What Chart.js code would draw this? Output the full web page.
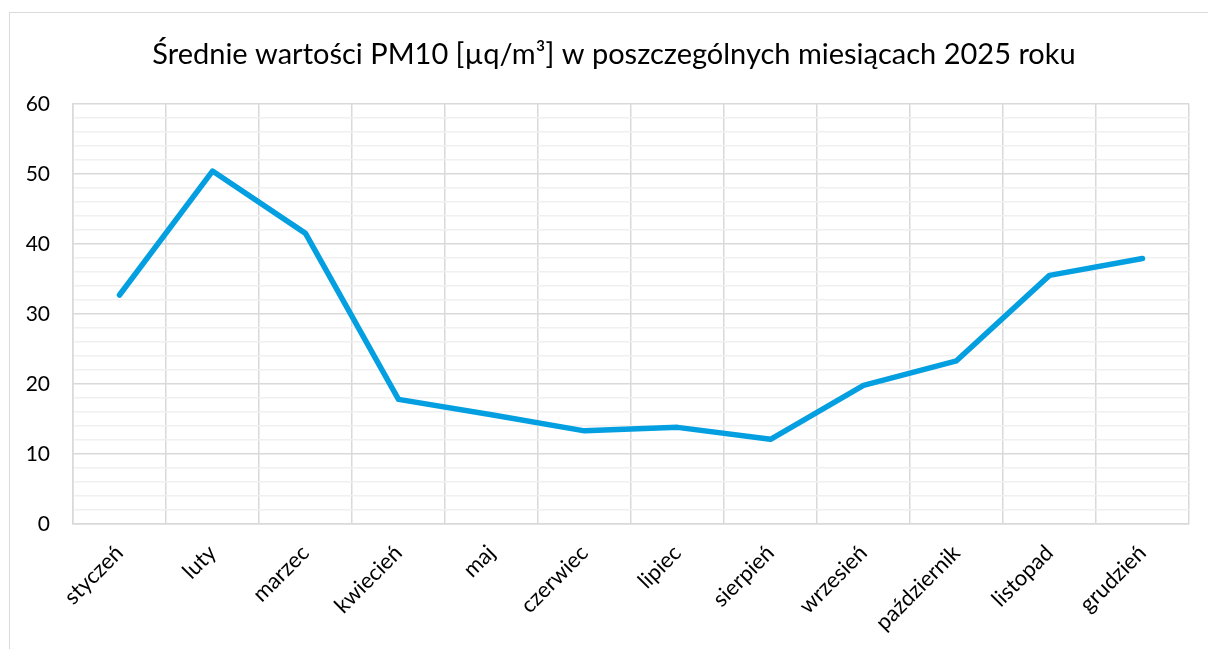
<!DOCTYPE html>
<html lang="pl">
<head>
<meta charset="utf-8">
<title>PM10 2025</title>
<script src="https://cdn.jsdelivr.net/npm/chart.js@4.4.1/dist/chart.umd.min.js"></script>
<style>
    html, body { margin: 0; padding: 0; background: #fff; overflow: hidden; }
    #wrap { position: relative; width: 1208px; height: 649px; }
    #frame {
        position: absolute; left: 9px; top: 12px; width: 1300px; height: 800px;
        border: 1.5px solid #d9d9d9; pointer-events: none;
    }
</style>
</head>
<body>
<div id="wrap">
    <canvas id="pm10" width="1208" height="649"></canvas>
    <div id="frame"></div>
</div>
<script>
/* global Chart */

const MONTHS = ['styczeń', 'luty', 'marzec', 'kwiecień', 'maj', 'czerwiec',
    'lipiec', 'sierpień', 'wrzesień', 'październik', 'listopad', 'grudzień'];
const PM10 = [32.7, 50.4, 41.5, 17.8, 15.6, 13.3, 13.8, 12.1, 19.8, 23.3, 35.5, 37.9];
const Y_MIN = 0;
const Y_MAX = 60;
const Y_MAJOR = 10;
const Y_MINOR = 2;

(function () {
    'use strict';

    const FONT = 'Lato, "Open Sans", sans-serif';
    const major = '#d9d9d9';
    const minor = '#f0f0f0';

    /* ── Line chart ───────────────────────────────────────────────────── */

    new Chart(document.getElementById('pm10'), {
        type: 'line',
        data: {
            labels: MONTHS,
            datasets: [{
                data: PM10,
                borderColor: '#049fe0',
                borderWidth: 5.5,
                borderCapStyle: 'round',
                borderJoinStyle: 'round',
                tension: 0,
                pointRadius: 0,
                fill: false,
            }],
        },
        options: {
            responsive: false,
            animation: false,
            layout: { padding: { left: 20, right: 0, top: 0, bottom: 0 } },
            plugins: {
                legend: { display: false },
                tooltip: { enabled: false },
                title: {
                    display: true,
                    text: 'Średnie wartości PM10 [µq/m³] w poszczególnych miesiącach 2025 roku',
                    color: '#000',
                    font: { family: FONT, size: 29, weight: 'normal' },
                    padding: { top: 37, bottom: 32 },
                },
            },
            scales: {
                x: {
                    offset: true,
                    grid: { offset: true, color: major, lineWidth: 1.5, drawTicks: false },
                    border: { color: major, width: 1.5 },
                    ticks: {
                        color: '#000',
                        font: { family: FONT, size: 22 },
                        minRotation: 45,
                        maxRotation: 45,
                        padding: 16,
                        autoSkip: false,
                    },
                    afterFit: function (s) { s.height = 125; },
                },
                y: {
                    min: Y_MIN,
                    max: Y_MAX,
                    grid: {
                        drawTicks: false,
                        lineWidth: 1.5,
                        color: function (ctx) {
                            return ctx.tick && ctx.tick.value % Y_MAJOR === 0 ? major : minor;
                        },
                    },
                    border: { color: major, width: 1.5 },
                    ticks: {
                        stepSize: Y_MINOR,
                        autoSkip: false,
                        color: '#000',
                        font: { family: FONT, size: 21 },
                        padding: 23,
                        callback: function (v) { return v % Y_MAJOR === 0 ? v : ''; },
                    },
                    afterFit: function (s) { s.width = 53; },
                },
                yR: {
                    position: 'right',
                    display: true,
                    grid: { display: false },
                    border: { display: false },
                    ticks: { display: false },
                    afterFit: function (s) { s.width = 19; },
                },
            },
        },
    });
})();
</script>
</body>
</html>
